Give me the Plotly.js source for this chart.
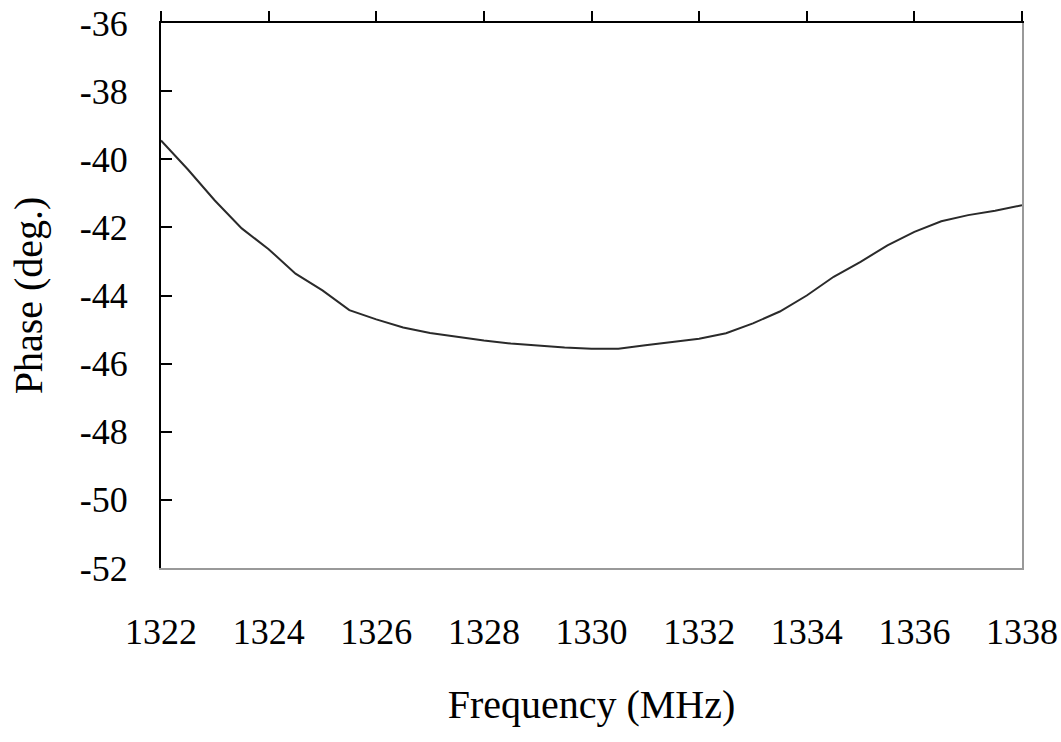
<!DOCTYPE html>
<html>
<head>
<meta charset="utf-8">
<script src="https://cdn.plot.ly/plotly-3.0.1.min.js"></script>
<style>html,body{margin:0;padding:0;background:#fff;}#chart{width:1061px;height:742px;}</style>
</head>
<body>
<div id="chart"></div>
<script>
const frequency = [1322.0,1322.5,1323.0,1323.5,1324.0,1324.5,1325.0,1325.5,1326.0,1326.5,1327.0,1327.5,1328.0,1328.5,1329.0,1329.5,1330.0,1330.5,1331.0,1331.5,1332.0,1332.5,1333.0,1333.5,1334.0,1334.5,1335.0,1335.5,1336.0,1336.5,1337.0,1337.5,1338.0];
const phase = [-39.45,-40.30,-41.21,-42.03,-42.64,-43.36,-43.85,-44.43,-44.70,-44.94,-45.10,-45.22,-45.32,-45.41,-45.48,-45.53,-45.56,-45.56,-45.46,-45.37,-45.27,-45.11,-44.82,-44.47,-44.00,-43.45,-43.01,-42.53,-42.13,-41.82,-41.64,-41.51,-41.35];
const xTicks = [1322,1324,1326,1328,1330,1332,1334,1336,1338];
const yTicks = [-36,-38,-40,-42,-44,-46,-48,-50,-52];
const xTitle = 'Frequency (MHz)';
const yTitle = 'Phase (deg.)';

const fontFam = '"Liberation Serif", "DejaVu Serif", serif';
const trace = {
  x: frequency, y: phase, type: 'scatter', mode: 'lines',
  line: {color: '#2a2a2a', width: 2}, hoverinfo: 'skip', showlegend: false
};
// invisible companions so the top and right frame axes are drawn
const topFrame = {x: frequency, y: phase, xaxis: 'x2', yaxis: 'y', type: 'scatter', mode: 'lines',
  line: {width: 0}, opacity: 0, hoverinfo: 'skip', showlegend: false};
const rightFrame = {x: frequency, y: phase, xaxis: 'x', yaxis: 'y2', type: 'scatter', mode: 'lines',
  line: {width: 0}, opacity: 0, hoverinfo: 'skip', showlegend: false};
const layout = {
  width: 1061, height: 742,
  margin: {l: 161, r: 39, t: 23, b: 174},
  paper_bgcolor: '#ffffff', plot_bgcolor: '#ffffff',
  showlegend: false,
  xaxis: {
    range: [1322, 1338], tickvals: xTicks, ticktext: xTicks.map(String),
    showgrid: false, zeroline: false,
    showline: true, linecolor: '#999999', linewidth: 2,
    ticks: '', ticklabelstandoff: 31,
    tickfont: {family: fontFam, size: 36, color: '#000'},
    title: {text: xTitle, font: {family: fontFam, size: 40, color: '#000'}, standoff: 39},
    automargin: false
  },
  xaxis2: {
    range: [1322, 1338], tickvals: xTicks, overlaying: 'x', side: 'top', anchor: 'y',
    showgrid: false, zeroline: false, showticklabels: false,
    showline: true, linecolor: '#000000', linewidth: 2,
    ticks: 'outside', ticklen: 10, tickwidth: 2, tickcolor: '#000'
  },
  yaxis: {
    range: [-52, -36], tickvals: yTicks, ticktext: yTicks.map(String),
    showgrid: false, zeroline: false,
    showline: true, linecolor: '#000000', linewidth: 2,
    ticks: 'inside', ticklen: 11, tickwidth: 2, tickcolor: '#000',
    ticklabelstandoff: 24,
    tickfont: {family: fontFam, size: 36, color: '#000'},
    title: {text: yTitle, font: {family: fontFam, size: 40, color: '#000'}, standoff: 25},
    automargin: false
  },
  yaxis2: {
    range: [-52, -36], overlaying: 'y', side: 'right', anchor: 'x',
    showgrid: false, zeroline: false, showticklabels: false,
    showline: true, linecolor: '#999999', linewidth: 2, ticks: ''
  }
};
Plotly.newPlot('chart', [trace, topFrame, rightFrame], layout, {displayModeBar: false, staticPlot: true});
</script>
</body>
</html>
